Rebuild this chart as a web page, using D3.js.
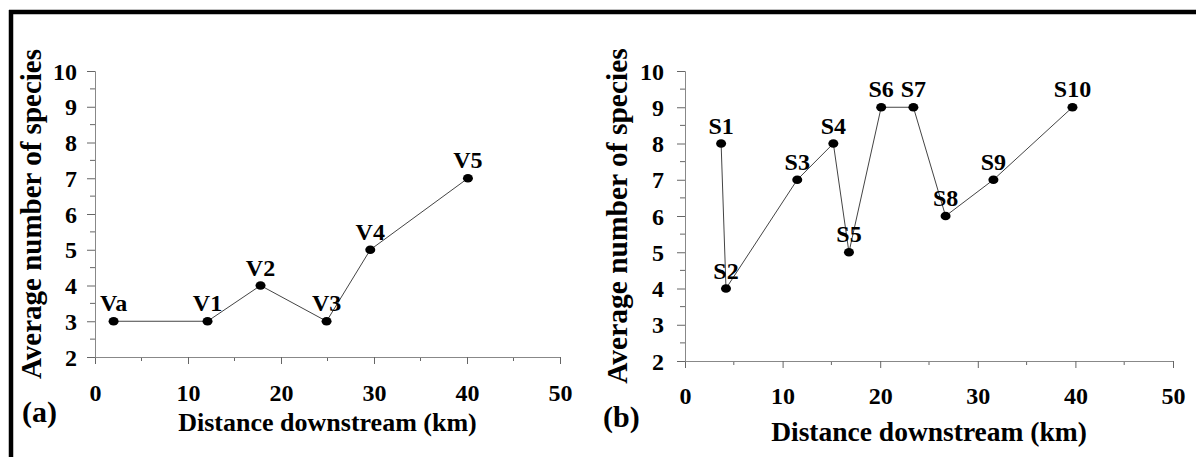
<!DOCTYPE html>
<html>
<head>
<meta charset="utf-8">
<script src="https://cdnjs.cloudflare.com/ajax/libs/d3/7.8.5/d3.min.js"></script>
<style>
  html, body { margin: 0; padding: 0; background: #fff; }
  svg text { font-family: "Liberation Serif", "Times New Roman", serif; font-weight: bold; fill: #000; }
</style>
</head>
<body>
<svg id="chart" width="1196" height="457" font-family="Liberation Serif"></svg>
<script>
// ---- Data ----
const sitesA = ["Va", "V1", "V2", "V3", "V4", "V5"];
const distA  = [2.0, 12.1, 17.8, 24.9, 29.6, 40.1];
const speciesA = [3, 3, 4, 3, 5, 7];

const sitesB = ["S1", "S2", "S3", "S4", "S5", "S6", "S7", "S8", "S9", "S10"];
const distB  = [3.7, 4.2, 11.5, 15.2, 16.8, 20.1, 23.4, 26.7, 31.6, 39.7];
const speciesB = [8, 4, 7, 8, 5, 9, 9, 6, 7, 9];

const xTicks = [0, 10, 20, 30, 40, 50];
const yTicks = [2, 3, 4, 5, 6, 7, 8, 9, 10];
const xTitle = "Distance downstream (km)";
const yTitle = "Average number of species";

const FONT = "'Liberation Serif', 'Times New Roman', serif";
const svg = d3.select("#chart");

// outer frame (top and left edges visible)
svg.append("line").attr("x1", 9).attr("x2", 1196).attr("y1", 12).attr("y2", 12)
  .attr("stroke", "#000").attr("stroke-width", 4.5);
svg.append("line").attr("x1", 11).attr("x2", 11).attr("y1", 10).attr("y2", 457)
  .attr("stroke", "#000").attr("stroke-width", 4.5);

function panel(cfg) {
  const x = d3.scaleLinear().domain([0, 50]).range(cfg.xr);
  const y = d3.scaleLinear().domain([2, 10]).range(cfg.yr);
  const g = svg.append("g");

  // minor ticks
  const minorX = d3.range(5, 50, 10);
  const minorY = d3.range(2.5, 10, 1);
  g.selectAll(".mx").data(minorX).enter().append("line")
    .attr("x1", d => x(d)).attr("x2", d => x(d))
    .attr("y1", cfg.yr[0]).attr("y2", cfg.yr[0] + 4)
    .attr("stroke", "#666").attr("stroke-width", 1);
  g.selectAll(".my").data(minorY).enter().append("line")
    .attr("y1", d => y(d)).attr("y2", d => y(d))
    .attr("x1", cfg.xr[0] - 5).attr("x2", cfg.xr[0])
    .attr("stroke", "#666").attr("stroke-width", 1);

  // x axis
  const xa = g.append("g").attr("transform", `translate(0,${cfg.yr[0]})`)
    .call(d3.axisBottom(x).tickValues(xTicks).tickSize(7).tickPadding(0).tickFormat(d3.format("d")));
  xa.attr("font-family", FONT).attr("font-size", null);
  xa.select(".domain").attr("stroke", "#888");
  xa.selectAll(".tick line").attr("stroke", "#666");
  xa.selectAll(".tick text").attr("font-size", 24).attr("font-family", FONT)
    .attr("font-weight", "bold").attr("dy", null)
    .attr("y", cfg.xLabelY);

  // y axis
  const ya = g.append("g").attr("transform", `translate(${cfg.xr[0]},0)`)
    .call(d3.axisLeft(y).tickValues(yTicks).tickSize(8).tickPadding(cfg.yPad).tickFormat(d3.format("d")));
  ya.attr("font-family", FONT).attr("font-size", null);
  ya.select(".domain").attr("stroke", "#888");
  ya.selectAll(".tick line").attr("stroke", "#666");
  ya.selectAll(".tick text").attr("font-size", 24).attr("font-family", FONT)
    .attr("font-weight", "bold").attr("dy", "0.34em");

  // data line
  const pts = cfg.dist.map((d, i) => ({ d: d, v: cfg.species[i], s: cfg.sites[i] }));
  const line = d3.line().x(p => x(p.d)).y(p => y(p.v));
  g.append("path").datum(pts).attr("d", line)
    .attr("fill", "none").attr("stroke", "#444").attr("stroke-width", 1);

  g.selectAll(".pt").data(pts).enter().append("ellipse")
    .attr("cx", p => x(p.d)).attr("cy", p => y(p.v))
    .attr("rx", 5).attr("ry", 4.3).attr("fill", "#000");

  g.selectAll(".lbl").data(pts).enter().append("text")
    .attr("x", p => x(p.d)).attr("y", p => y(p.v) - 10)
    .attr("text-anchor", "middle").attr("font-size", 24)
    .attr("font-family", FONT).attr("font-weight", "bold")
    .text(p => p.s);

  // titles
  g.append("text")
    .attr("x", (cfg.xr[0] + cfg.xr[1]) / 2).attr("y", cfg.xTitleY)
    .attr("text-anchor", "middle").attr("font-size", cfg.xTitleSize)
    .attr("font-family", FONT).attr("font-weight", "bold")
    .text(xTitle);
  g.append("text")
    .attr("transform", `translate(${cfg.yTitleX},${(cfg.yr[0] + cfg.yr[1]) / 2}) rotate(-90)`)
    .attr("text-anchor", "middle").attr("font-size", cfg.yTitleSize)
    .attr("font-family", FONT).attr("font-weight", "bold")
    .text(yTitle);

  g.append("text").attr("x", cfg.tagX).attr("y", cfg.tagY)
    .attr("font-size", 30).attr("font-family", FONT).attr("font-weight", "bold")
    .text(cfg.tag);
}

panel({
  xr: [95, 560], yr: [357, 71], dist: distA, species: speciesA, sites: sitesA,
  xLabelY: 44, yPad: 10, xTitleY: 431, xTitleSize: 26, yTitleX: 41, yTitleSize: 29,
  tag: "(a)", tagX: 22, tagY: 422
});
panel({
  xr: [685, 1173], yr: [361, 71], dist: distB, species: speciesB, sites: sitesB,
  xLabelY: 43, yPad: 13, xTitleY: 441, xTitleSize: 27.5, yTitleX: 627, yTitleSize: 29.5,
  tag: "(b)", tagX: 603, tagY: 427
});
</script>
</body>
</html>
